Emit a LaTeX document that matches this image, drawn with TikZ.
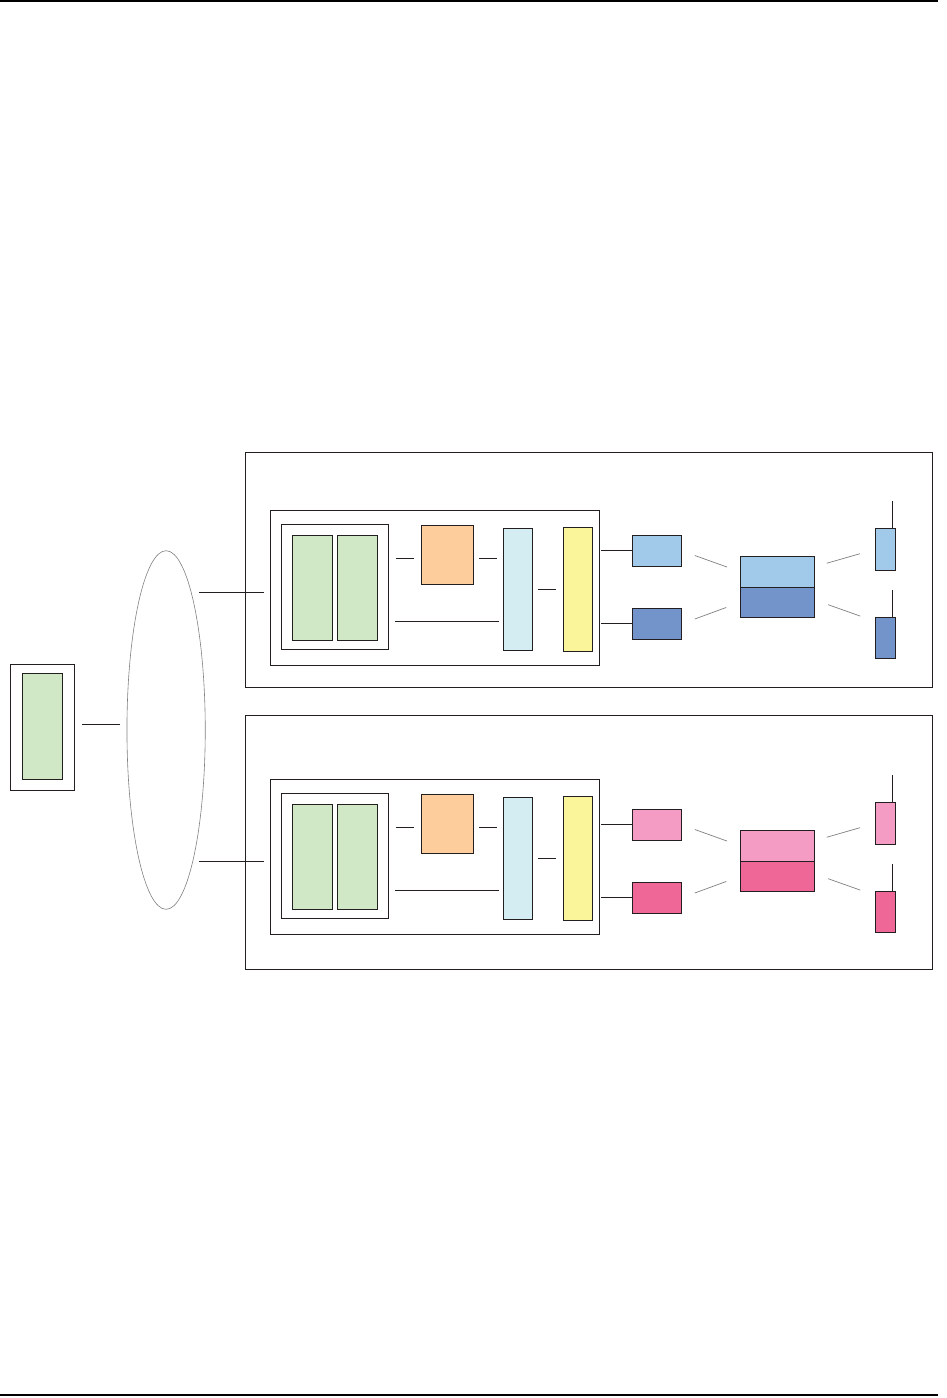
\documentclass[tikz,border=0pt]{standalone}
\usetikzlibrary{shapes.geometric}
\definecolor{ink}{HTML}{231F20}
\definecolor{pcgreen}{HTML}{D1E8C7}
\definecolor{peach}{HTML}{FDCD9B}
\definecolor{ice}{HTML}{D3EDF3}
\definecolor{lemon}{HTML}{FAF59B}
\definecolor{lblue}{HTML}{A0C9EA}
\definecolor{dblue}{HTML}{7294CB}
\definecolor{lpink}{HTML}{F49CC4}
\definecolor{dpink}{HTML}{EF6797}
\tikzset{
  block/.style = {draw=ink, line width=0.9pt, inner sep=0pt, outer sep=0pt},
  frame/.style = {block, fill=white},
  board/.style = {block, fill=pcgreen, minimum width=40pt},
  cloud/.style = {ellipse, draw=gray, line width=0.6pt, inner sep=0pt,
    outer sep=0pt},
  link/.style = {draw=ink, line width=0.9pt},
  radio/.style = {draw=gray, line width=0.7pt},
  rule/.style = {draw=black, line width=2.4pt}
}

\begin{document}
\begin{tikzpicture}[x=1pt, y=-1pt]
    \useasboundingbox (0,0) rectangle (946,1398);
    \draw [rule] (0,1.2) -- (938,1.2);
    \draw [rule] (0,1395) -- (938,1395);
    % terminal and network
    \node [frame, minimum width=64.4pt, minimum height=126pt] (term) at (42.5,727.3) {};
    \node [board, minimum height=106pt] (termpc) at (42.3,726.3) {};
    \node [cloud, minimum width=78.3pt, minimum height=358.6pt] (lan) at (166.1,730) {};
    \draw [link, shorten <=7.3pt, shorten >=7.3pt] ([yshift=3pt]term.east) -- ++(52.3,0);
    % the two sites
    \foreach \h/\ya/\yb/\sy/\sh/\ca/\cb in
        {a/0/0/569.7/234.7/lblue/dblue, b/269/274/842.3/254/lpink/dpink}
    {
        \node [frame, minimum width=687pt, minimum height=\sh pt] (site\h) at (588.8,\sy) {};
        \node [frame, minimum width=329.4pt, minimum height=155pt] (host\h) at (435,587.8+\ya) {};
        \node [frame, minimum width=107pt, minimum height=125pt] (rack\h) at (334.8,586.8+\ya) {};
        \node [board, minimum height=105pt] (cpu\h) at (312.3,587.8+\ya) {};
        \node [board, minimum height=105pt] (mem\h) at (357.5,587.8+\ya) {};
        \node [block, fill=peach, minimum width=52pt, minimum height=59pt] (ctl\h) at (447.3,554.8+\ya) {};
        \node [block, fill=ice, minimum width=29.4pt, minimum height=122pt] (bus\h) at (518,589.3+\ya) {};
        \node [block, fill=lemon, minimum width=29.4pt, minimum height=124pt] (io\h) at (578,589.3+\ya) {};
        \node [block, fill=\ca, minimum width=49.4pt, minimum height=31pt] (tx\h) at (657,550.8+\yb) {};
        \node [block, fill=\cb, minimum width=49.4pt, minimum height=31pt] (rx\h) at (657,623.8+\yb) {};
        \node [block, fill=\ca, minimum width=74pt, minimum height=31pt] (mixa\h) at (777.3,571.8+\yb) {};
        \node [block, fill=\cb, minimum width=74pt, minimum height=30pt] (mixb\h) at (777.3,602.3+\yb) {};
        \node [block, fill=\ca, minimum width=20pt, minimum height=42pt] (anta\h) at (885.3,549.3+\yb) {};
        \node [block, fill=\cb, minimum width=20pt, minimum height=41pt] (antb\h) at (885.3,637.8+\yb) {};
        % wiring
        \draw [link, shorten <=6.5pt] ([yshift=-4.2pt]host\h.west) -- ++(-71,0);
        \draw [link, shorten <=7.3pt, shorten >=8pt] ([yshift=-3.5pt]ctl\h.west) -- ++(-33,0);
        \draw [link, shorten <=6pt, shorten >=6.3pt] ([yshift=-3.5pt]ctl\h.east) -- ++(30,0);
        \draw [link, shorten <=7pt, shorten >=4.6pt] ([yshift=-34.5pt]rack\h.east) -- ++(115,0);
        \draw [link, shorten <=5.3pt, shorten >=7.6pt] (bus\h.east) -- (io\h.west);
        \draw [link, shorten <=8.6pt] (tx\h.west -| io\h.east) -- (tx\h.west);
        \draw [link, shorten <=8.6pt] (rx\h.west -| io\h.east) -- (rx\h.west);
        \draw [radio, shorten <=14pt, shorten >=14pt] (tx\h.east) -- (mixa\h.west);
        \draw [radio, shorten <=14pt, shorten >=15pt] (rx\h.east) -- (mixb\h.west);
        \draw [radio, shorten <=13pt, shorten >=16pt] ([yshift=5pt]mixa\h.east) -- (anta\h.west);
        \draw [radio, shorten <=14.7pt, shorten >=16pt] ([yshift=2.5pt]mixb\h.east) -- ([yshift=16.4pt]antb\h.west);
        \draw [link] ([xshift=-3pt]anta\h.north east) -- ++(0,-27);
        \draw [link] ([xshift=-3pt]antb\h.north east) -- ++(0,-27);
    }
\end{tikzpicture}
\end{document}
